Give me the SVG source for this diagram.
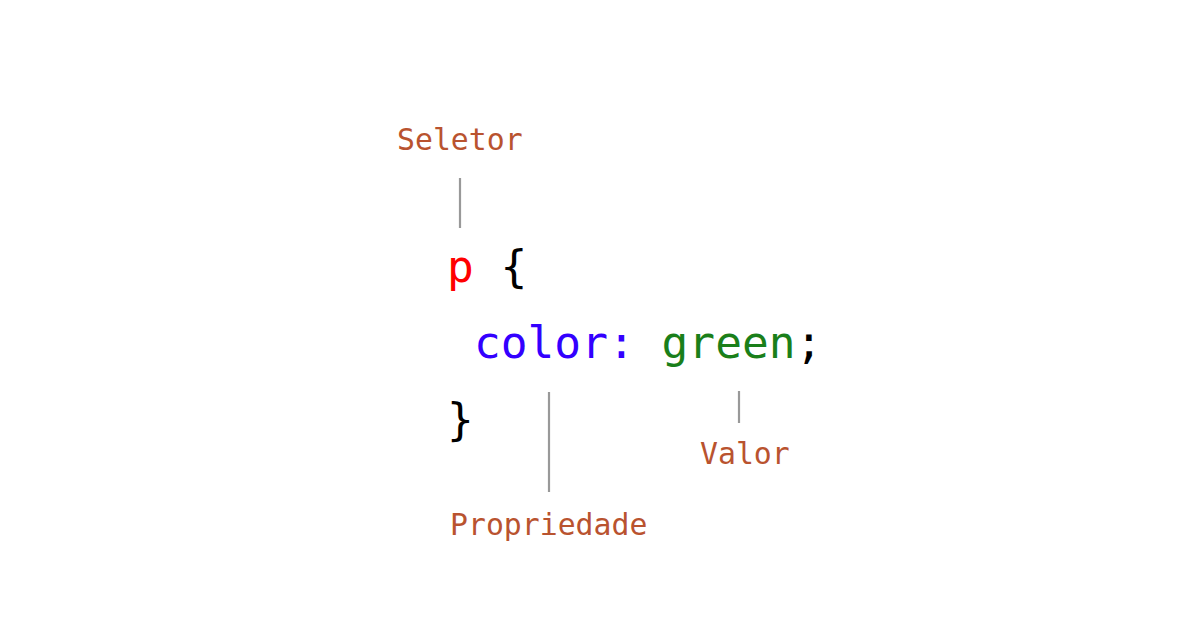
<svg xmlns="http://www.w3.org/2000/svg" width="1200" height="630" viewBox="0 0 1200 630">
<style>
.code{font-family:"DejaVu Sans Mono","Liberation Mono",monospace;font-size:44.5px;fill:#000}
.lbl{font-family:"DejaVu Sans Mono","Liberation Mono",monospace;font-size:29.8px;fill:#b9532f}
.ln{stroke:#999;stroke-width:2.2}
</style>
<rect width="1200" height="630" fill="#fff"/>
<g id="code">
<text class="code" x="447" y="282"><tspan fill="#ff0000">p</tspan> {</text>
<text class="code" x="474" y="358"><tspan fill="#3300ff">color:</tspan> <tspan fill="#1a7f1a">green</tspan>;</text>
<text class="code" x="447" y="435">}</text>
</g>
<g id="seletor"><text class="lbl" x="397" y="150">Seletor</text></g>
<g id="propriedade"><text class="lbl" x="450" y="535">Propriedade</text></g>
<g id="valor"><text class="lbl" x="700" y="464">Valor</text></g>
<g id="connectors">
<line class="ln" x1="460" y1="178" x2="460" y2="228"/>
<line class="ln" x1="549" y1="392" x2="549" y2="492"/>
<line class="ln" x1="739" y1="391" x2="739" y2="423"/>
</g>
</svg>
